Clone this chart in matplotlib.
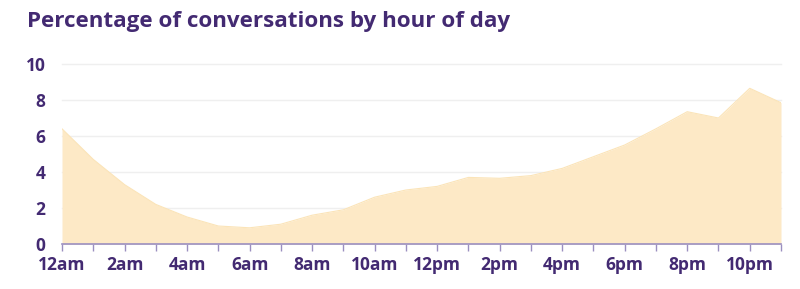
import matplotlib
matplotlib.use("Agg")
import matplotlib.pyplot as plt
import numpy as np

hours = list(range(24))
values = [6.4, 4.7, 3.3, 2.2, 1.5, 1.0, 0.9, 1.1, 1.6, 1.9, 2.6, 3.0,
          3.2, 3.7, 3.65, 3.8, 4.2, 4.85, 5.5, 6.4, 7.35, 7.0, 8.65, 7.85]
tick_hours = [0, 2, 4, 6, 8, 10, 12, 14, 16, 18, 20, 22]
tick_labels = ["12am", "2am", "4am", "6am", "8am", "10am", "12pm", "2pm",
               "4pm", "6pm", "8pm", "10pm"]
y_ticks = [0, 2, 4, 6, 8, 10]

purple = "#432a72"
fill = "#fde9c6"

plt.rcParams['font.family'] = ['Open Sans', 'DejaVu Sans']

fig = plt.figure(figsize=(8, 2.89), dpi=100)
ax = fig.add_axes([62/800, 1-244/289, (781-62)/800, (244-64)/289])

ax.fill_between(hours, values, 0, color=fill, linewidth=0, zorder=2)
ax.plot(hours, values, color="#fbe4b8", linewidth=0.8, zorder=2)

ax.set_xlim(0, 23)
ax.set_ylim(0, 10)
ax.set_yticks(y_ticks)
ax.set_yticklabels([str(v) for v in y_ticks])
ax.set_xticks(hours, minor=True)
ax.set_xticks(tick_hours)
ax.set_xticklabels(tick_labels)

for y in y_ticks[1:]:
    ax.axhline(y, color="#efefef", linewidth=1, zorder=1, clip_on=False)

for s in ["top", "right", "left"]:
    ax.spines[s].set_visible(False)
ax.spines["bottom"].set_color("#9b8fc0")
ax.spines["bottom"].set_linewidth(1.2)
ax.spines["bottom"].set_zorder(3)

ax.tick_params(axis="x", which="both", direction="out", length=5, width=1,
               color="#9b8fc0", labelcolor=purple, labelsize=12.5, pad=4)
ax.tick_params(axis="y", length=0, labelcolor=purple, labelsize=12.5, pad=12)
for lab in ax.get_xticklabels() + ax.get_yticklabels():
    lab.set_fontweight("bold")

fig.text(27/800, 1-22/289, "Percentage of conversations by hour of day",
         fontsize=16.1, fontweight="bold", color=purple, va="center", ha="left")

fig.savefig("out.png", dpi=100, facecolor="white")
